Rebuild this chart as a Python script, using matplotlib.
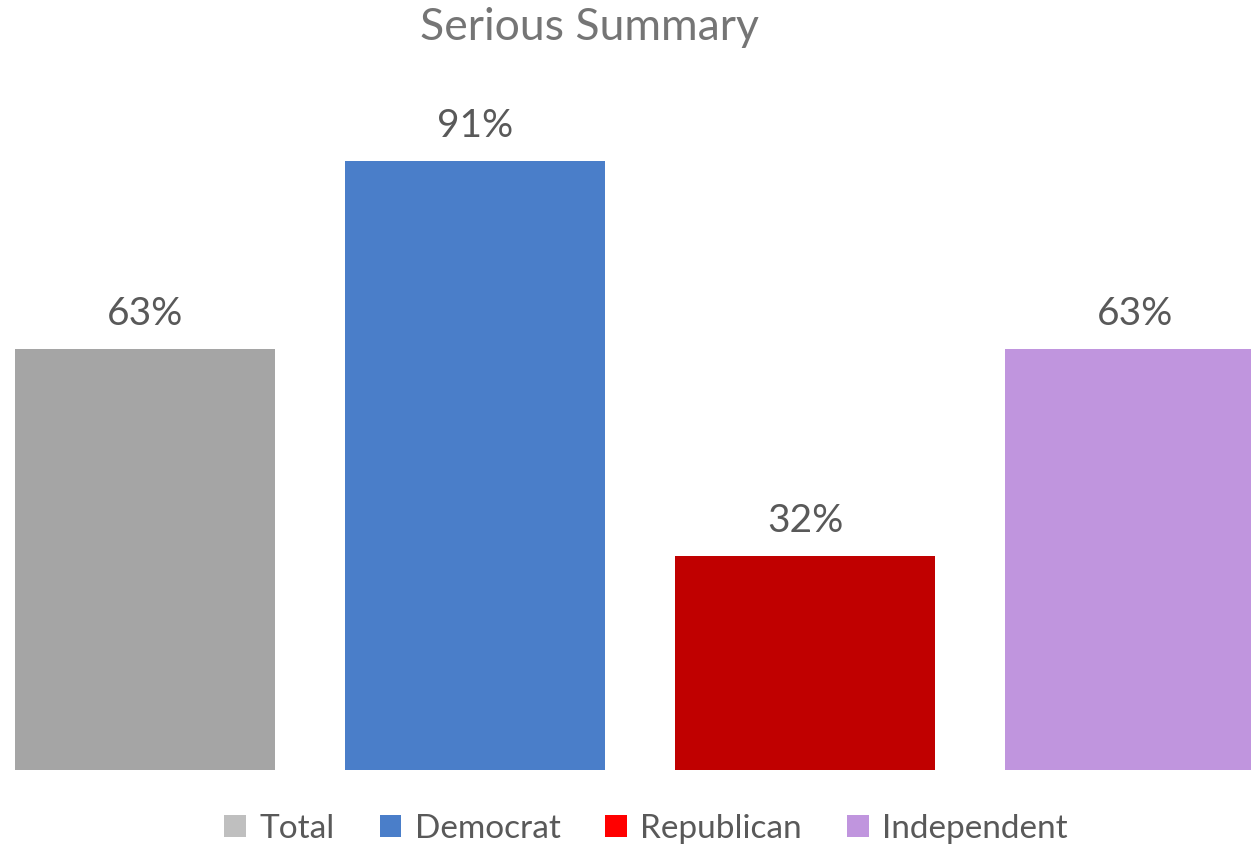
import matplotlib
matplotlib.use("Agg")
import matplotlib.pyplot as plt
from matplotlib.patches import Patch

categories = ["Total", "Democrat", "Republican", "Independent"]
values = [63, 91, 32, 63]
labels = ["63%", "91%", "32%", "63%"]
bar_colors = ["#A5A5A5", "#4A7EC9", "#C00000", "#C095DE"]
legend_colors = ["#BFBFBF", "#4A7EC9", "#FF0000", "#C095DE"]

plt.rcParams['font.family'] = ['Lato', 'DejaVu Sans']

fig = plt.figure(figsize=(12.51, 8.46), dpi=100)
ax = fig.add_axes([0, 76/846, 1, 770/846])
x = list(range(len(categories)))
ax.bar(x, values, width=260/330, color=bar_colors)
ax.set_xlim(-145/330, (1251-145)/330)
ax.set_ylim(0, 770/6.69)
for xi, v, lab in zip(x, values, labels):
    ax.text(xi, v + 35/6.69, lab, ha='center', va='center', fontsize=28, color='#595959')
ax.axis('off')

fig.text(589/1251, 1 - 28/846, "Serious Summary", ha='center', va='center', fontsize=32, color='#757575')

handles = [Patch(facecolor=c, edgecolor='none') for c in legend_colors]
fig.legend(handles, categories, loc='center', bbox_to_anchor=(646/1251, 1 - 829/846), ncol=4,
           frameon=False, fontsize=24, labelcolor='#595959', handlelength=0.65, handleheight=0.65,
           handletextpad=0.4, columnspacing=1.35)

fig.savefig("out.png", dpi=100)
